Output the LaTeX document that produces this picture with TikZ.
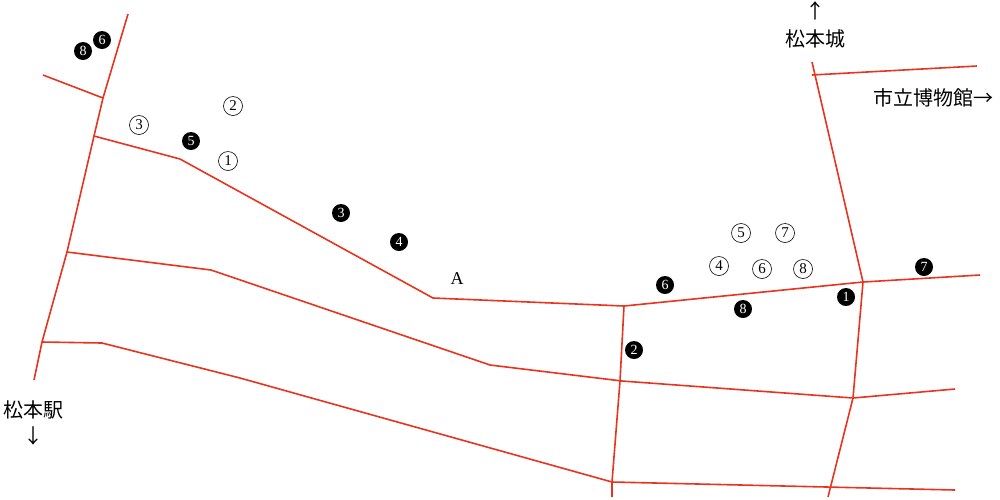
\documentclass[tikz,border=0pt]{standalone}
\usepackage{fontspec}
\setmainfont{Liberation Serif}
\newfontfamily\cjk{Noto Sans CJK JP}
\begin{document}
\begin{tikzpicture}[x=1pt,y=-1pt,
  road/.style={draw={rgb,255:red,232;green,52;blue,30},line width=1.6pt,line join=round},
  bnum/.style={circle,fill=black,text=white,inner sep=0pt,minimum size=18pt,font=\fontsize{14}{14}\selectfont},
  wnum/.style={circle,draw=black,line width=0.6pt,inner sep=0pt,minimum size=19pt,font=\fontsize{15}{15}\selectfont},
  lab/.style={font=\cjk\fontsize{20}{20}\selectfont,inner sep=0pt}]
\useasboundingbox (0,0) rectangle (1000,499);
\draw[road] (128,14) -- (103,98) -- (94,136) -- (67,252) -- (42,342) -- (34,380);
\draw[road] (43,75) -- (103,98);
\draw[road] (94,136) -- (180,159) -- (433,298) -- (624,306) -- (863,282) -- (980,275);
\draw[road] (67,252) -- (211,270) -- (490,365) -- (622,381) -- (853,398) -- (955,389);
\draw[road] (42,342) -- (102,343) -- (240,378) -- (612,482) -- (955,490);
\draw[road] (624,306) -- (620,381) -- (612,482) -- (612,497);
\draw[road] (812,62) -- (863,282) -- (853,398) -- (828,497);
\draw[road] (812,75) -- (977,66);
\node[bnum] (b8a) at (83,51) {8};
\node[bnum] (b6a) at (102,40) {6};
\node[bnum] (b5) at (191,141) {5};
\node[bnum] (b3) at (341,213) {3};
\node[bnum] (b4) at (399,242) {4};
\node[bnum] (b6) at (665,285) {6};
\node[bnum] (b8) at (743,309) {8};
\node[bnum] (b1) at (846,297) {1};
\node[bnum] (b7) at (924,267) {7};
\node[bnum] (b2) at (634,350) {2};
\node[wnum] (w3) at (139,125) {3};
\node[wnum] (w2) at (233,106) {2};
\node[wnum] (w1) at (228,161) {1};
\node[wnum] (w5) at (741,233) {5};
\node[wnum] (w7) at (785,233) {7};
\node[wnum] (w4) at (719,266) {4};
\node[wnum] (w6) at (762,269) {6};
\node[wnum] (w8) at (803,269) {8};
\node[font=\fontsize{18}{18}\selectfont] (A) at (457,279) {A};
\node[lab] (up) at (815,11) {↑};
\node[lab] (jo) at (815,39) {松本城};
\node[lab] (mus) at (933,98) {市立博物館→};
\node[lab] (eki) at (33,410) {松本駅};
\node[lab] (dn) at (33,436) {↓};
\end{tikzpicture}
\end{document}
